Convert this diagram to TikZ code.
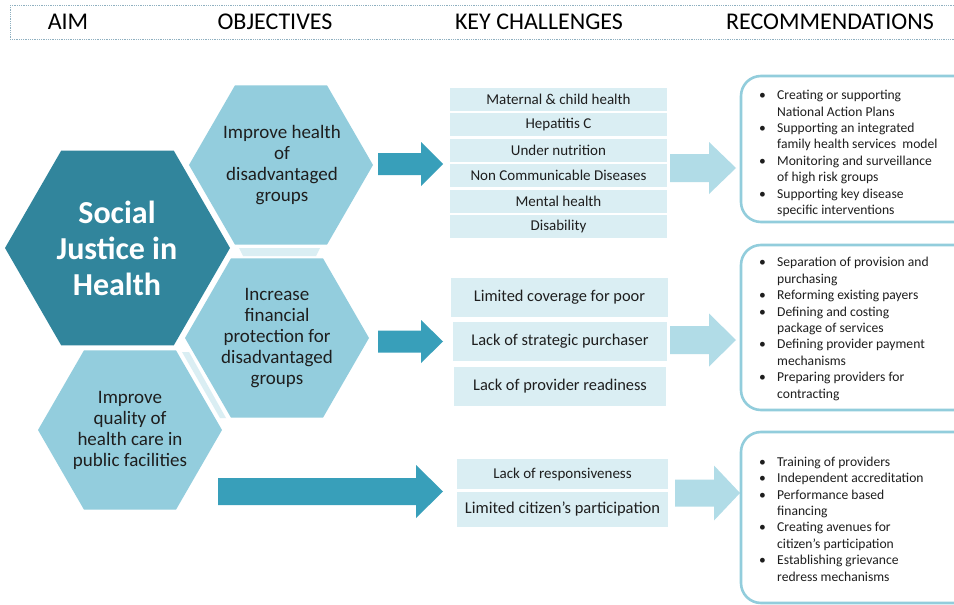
\documentclass[tikz,border=0pt]{standalone}
\usepackage{fontspec}
\setmainfont{Carlito}
\definecolor{darkhex}{HTML}{31859C}
\definecolor{lighthex}{HTML}{93CDDD}
\definecolor{darkarr}{HTML}{389FBA}
\definecolor{lightarr}{HTML}{B1DCE7}
\definecolor{pale}{HTML}{DAEEF3}
\definecolor{recline}{HTML}{92CDDC}
\definecolor{txt}{HTML}{1E1E1E}
\definecolor{hdrline}{HTML}{8FB0C0}
\newcommand\hexag[4]{\fill[#1] ({#2-#4},#3) -- ({#2-#4/2},{#3-0.866*#4}) -- ({#2+#4/2},{#3-0.866*#4}) -- ({#2+#4},#3) -- ({#2+#4/2},{#3+0.866*#4}) -- ({#2-#4/2},{#3+0.866*#4}) -- cycle;}
\newcommand\blkarr[7]{\fill[#1] (#2,{#5-#6}) -- (#3,{#5-#6}) -- (#3,{#5-#7}) -- (#4,#5) -- (#3,{#5+#7}) -- (#3,{#5+#6}) -- (#2,{#5+#6}) -- cycle;}
\begin{document}
\begin{tikzpicture}[x=1pt,y=-1pt,
  hdr/.style={font=\fontsize{24}{26}\selectfont, text=black, inner sep=0},
  hexlabel/.style={align=center, text=txt, font=\fontsize{19}{21}\selectfont, inner sep=0},
  chalA/.style={fill=pale, text=txt, font=\fontsize{15}{17}\selectfont, minimum width=217, minimum height=23, inner sep=0},
  chalB/.style={fill=pale, text=txt, font=\fontsize{16.4}{18}\selectfont, minimum width=214, minimum height=39, inner sep=0},
  recbox/.style={draw=recline, line width=2.6pt, fill=white, rounded corners=20pt},
  rectext/.style={align=left, text=txt, font=\fontsize{13.6}{16.4}\selectfont, inner sep=0, anchor=west}]
\useasboundingbox (0,0) rectangle (954,605);
\fill[white] (0,0) rectangle (954,605);
% header
\draw[hdrline, densely dotted, line width=0.8pt] (10,5) rectangle (970,39);
\node[hdr] (h1) at (68,22) {AIM};
\node[hdr] (h2) at (275,22) {OBJECTIVES};
\node[hdr] (h3) at (539,22) {KEY CHALLENGES};
\node[hdr] (h4) at (830,22) {RECOMMENDATIONS};
% hexagons
\hexag{darkhex}{117.5}{248}{112.5}
\hexag{lighthex}{281}{165}{92}
\hexag{lighthex}{277}{338}{92}
\hexag{lighthex}{130}{430}{92}
\fill[pale] (239,248) -- (320,248) -- (316,256) -- (243,256) -- cycle;
\fill[pale] (182,352) -- (189,352) -- (226,418) -- (220,418) -- cycle;
\node[align=center, text=white, font=\bfseries\fontsize{32}{36}\selectfont, inner sep=0] (aim) at (117,248) {Social\\Justice in\\Health};
\node[hexlabel] (o1) at (282,165) {Improve health\\of\\disadvantaged\\groups};
\node[hexlabel] (o2) at (277,338) {Increase\\financial\\protection for\\disadvantaged\\groups};
\node[hexlabel] (o3) at (130,430) {Improve\\quality of\\health care in\\public facilities};
% dark arrows
\blkarr{darkarr}{378}{421}{443}{164}{11}{22}
\blkarr{darkarr}{378}{421}{443}{341.5}{11}{21.5}
\blkarr{darkarr}{218}{416}{443}{491.5}{13.5}{26.5}
% challenges group 1
\node[chalA] (c1) at (558.5,99.5) {Maternal \& child health};
\node[chalA] (c2) at (558.5,124.5) {Hepatitis C};
\node[chalA] (c3) at (558.5,150.5) {Under nutrition};
\node[chalA] (c4) at (558.5,175.5) {Non Communicable Diseases};
\node[chalA] (c5) at (558.5,201.5) {Mental health};
\node[chalA] (c6) at (558.5,226) {Disability};
% group 2
\node[chalB, minimum width=217] (d1) at (559.5,297) {Limited coverage for poor};
\node[chalB] (d2) at (560,341.5) {Lack of strategic purchaser};
\node[chalB, minimum width=212] (d3) at (560,386.5) {Lack of provider readiness};
% group 3
\node[chalA, minimum width=211, minimum height=30, font=\fontsize{15}{17}\selectfont] (e1) at (562.5,474) {Lack of responsiveness};
\node[chalA, minimum width=211, minimum height=35, font=\fontsize{16.5}{18}\selectfont] (e2) at (562.5,509.5) {Limited citizen’s participation};
% light arrows
\blkarr{lightarr}{670}{709}{736}{168}{14}{26}
\blkarr{lightarr}{670}{709}{736}{340}{14}{26.5}
\blkarr{lightarr}{675}{714}{740}{493}{13.5}{27.5}
% recommendation boxes
\path[recbox] (741,76) rectangle (975,222);
\path[recbox] (741,245) rectangle (975,410);
\path[recbox] (741,432) rectangle (975,603);
\node[rectext] (r1) at (759,153.5) {\makebox[18pt][l]{•}Creating or supporting\\\hspace*{18pt}National Action Plans\\\makebox[18pt][l]{•}Supporting an integrated\\\hspace*{18pt}family health services\ \ model\\\makebox[18pt][l]{•}Monitoring and surveillance\\\hspace*{18pt}of high risk groups\\\makebox[18pt][l]{•}Supporting key disease\\\hspace*{18pt}specific interventions};
\node[rectext] (r2) at (759,329) {\makebox[18pt][l]{•}Separation of provision and\\\hspace*{18pt}purchasing\\\makebox[18pt][l]{•}Reforming existing payers\\\makebox[18pt][l]{•}Defining and costing\\\hspace*{18pt}package of services\\\makebox[18pt][l]{•}Defining provider payment\\\hspace*{18pt}mechanisms\\\makebox[18pt][l]{•}Preparing providers for\\\hspace*{18pt}contracting};
\node[rectext] (r3) at (759,519) {\makebox[18pt][l]{•}Training of providers\\\makebox[18pt][l]{•}Independent accreditation\\\makebox[18pt][l]{•}Performance based\\\hspace*{18pt}financing\\\makebox[18pt][l]{•}Creating avenues for\\\hspace*{18pt}citizen’s participation\\\makebox[18pt][l]{•}Establishing grievance\\\hspace*{18pt}redress mechanisms};
\end{tikzpicture}
\end{document}
